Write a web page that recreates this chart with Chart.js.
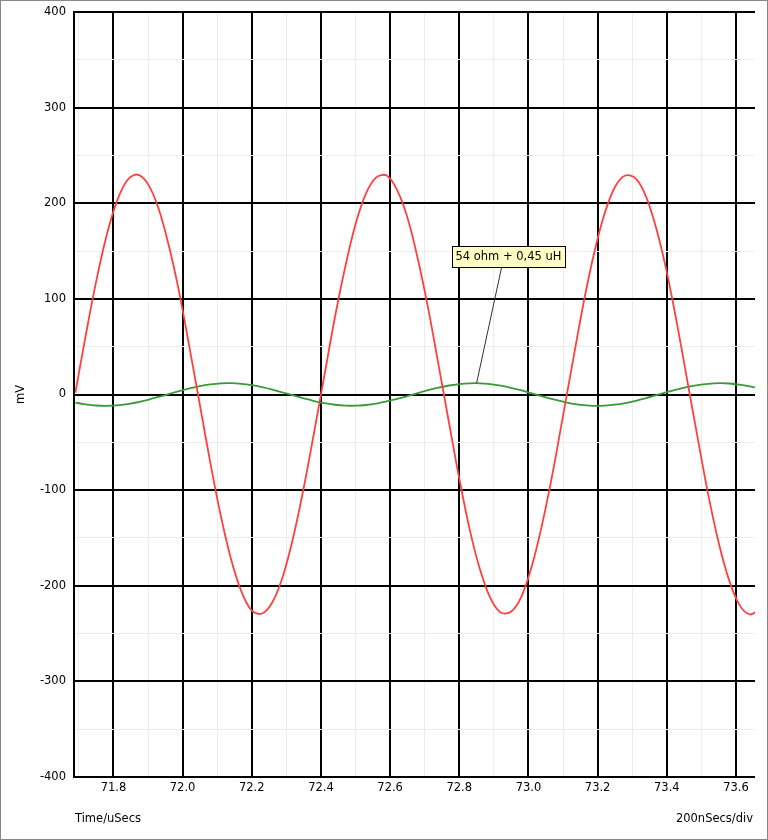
<!DOCTYPE html>
<html>
<head>
<meta charset="utf-8">
<script src="https://cdn.jsdelivr.net/npm/chart.js@4/dist/chart.umd.min.js"></script>
<style>
  html, body { margin: 0; padding: 0; background: #fff; }
  #wrap { width: 768px; height: 840px; }
</style>
</head>
<body>
<div id="wrap"><canvas id="chart" width="768" height="840"></canvas></div>
<script>
// time samples (uSecs)
var times = [71.69, 71.72, 71.75, 71.78, 71.81, 71.84, 71.87, 71.90, 71.93, 71.96,
    71.99, 72.02, 72.05, 72.08, 72.11, 72.14, 72.17, 72.20, 72.23, 72.26,
    72.29, 72.32, 72.35, 72.38, 72.41, 72.44, 72.47, 72.50, 72.53, 72.56,
    72.59, 72.62, 72.65, 72.68, 72.71, 72.74, 72.77, 72.80, 72.83, 72.86,
    72.89, 72.92, 72.95, 72.98, 73.01, 73.04, 73.07, 73.10, 73.13, 73.16,
    73.19, 73.22, 73.25, 73.28, 73.31, 73.34, 73.37, 73.40, 73.43, 73.46,
    73.49, 73.52, 73.55, 73.58, 73.61, 73.64, 73.67];

// red trace (mV)
var redTrace = [2, 62, 118, 166, 202, 224, 230, 220, 195, 156,
    107, 49, -11, -71, -126, -172, -206, -226, -229, -217,
    -190, -149, -98, -40, 20, 80, 133, 178, 210, 227,
    229, 214, 185, 142, 90, 31, -29, -88, -141, -183,
    -213, -228, -227, -211, -179, -135, -82, -22, 38, 97,
    148, 189, 217, 229, 226, 207, 173, 128, 73, 13,
    -47, -105, -155, -194, -220, -230, -224];

// green trace (mV)
var greenTrace = [-8.5, -10.3, -11.5, -11.8, -11.3, -10.0, -8.1, -5.5, -2.6, 0.5,
    3.6, 6.4, 8.8, 10.5, 11.6, 11.8, 11.2, 9.8, 7.7, 5.1,
    2.1, -1.0, -4.0, -6.8, -9.1, -10.7, -11.6, -11.7, -11.0, -9.5,
    -7.3, -4.7, -1.7, 1.5, 4.5, 7.2, 9.4, 10.9, 11.7, 11.7,
    10.8, 9.2, 7.0, 4.2, 1.2, -1.9, -4.9, -7.5, -9.7, -11.1,
    -11.8, -11.6, -10.6, -8.9, -6.6, -3.8, -0.7, 2.4, 5.3, 7.9,
    9.9, 11.2, 11.8, 11.5, 10.4, 8.6, 6.2];

var xMajorTicks = [71.8, 72.0, 72.2, 72.4, 72.6, 72.8, 73.0, 73.2, 73.4, 73.6];
var xMinorTicks = [71.7, 71.9, 72.1, 72.3, 72.5, 72.7, 72.9, 73.1, 73.3, 73.5];
var yMajorTicks = [-400, -300, -200, -100, 0, 100, 200, 300, 400];
var yMinorTicks = [-350, -250, -150, -50, 50, 150, 250, 350];

var noteText = "54 ohm + 0,45 uH";
var noteT = 72.85;
var noteV = 11.8;

function toPoints(ys) {
    return times.map(function (t, i) { return { x: t, y: ys[i] }; });
}
function isMajor(list, v) {
    return list.some(function (m) { return Math.abs(m - v) < 1e-6; });
}
function tickObjs(a, b) {
    return a.concat(b).sort(function (p, q) { return p - q; }).map(function (v) { return { value: v }; });
}

var FONT = "DejaVu Sans";

var extras = {
    id: 'extras',
    afterDraw: function (chart) {
        var c = chart.ctx, a = chart.chartArea;
        var xs = chart.scales.x, ys = chart.scales.y;
        c.save();
        // annotation
        var px = xs.getPixelForValue(noteT), py = ys.getPixelForValue(noteV);
        c.font = "11.5px '" + FONT + "'";
        var w = Math.round(c.measureText(noteText).width + 7);
        var bx = Math.round(px - 25) + 0.5, by = Math.round(py - 137) + 0.5;
        c.strokeStyle = '#333';
        c.lineWidth = 1;
        c.beginPath();
        c.moveTo(px + 25, by + 21);
        c.lineTo(px, py);
        c.stroke();
        c.fillStyle = '#ffffc4';
        c.fillRect(bx, by, w, 21);
        c.strokeStyle = '#000';
        c.strokeRect(bx, by, w, 21);
        c.fillStyle = '#000';
        c.textBaseline = 'middle';
        c.textAlign = 'left';
        c.fillText(noteText, bx + 3, by + 11);
        // axis titles
        c.textBaseline = 'alphabetic';
        c.fillText("Time/uSecs", a.left + 1, 822);
        c.textAlign = 'right';
        c.fillText("200nSecs/div", a.right - 2, 822);
        c.translate(24, (a.top + a.bottom) / 2);
        c.rotate(-Math.PI / 2);
        c.textAlign = 'center';
        c.fillText("mV", 0, 0);
        c.restore();
        // outer frame
        c.save();
        c.strokeStyle = '#8a8a8a';
        c.lineWidth = 1;
        c.strokeRect(0.5, 0.5, chart.width - 1, chart.height - 1);
        c.restore();
    }
};

var ctx = document.querySelector('#chart').getContext('2d');
var chart = new Chart(ctx, {
    type: 'scatter',
    data: {
        datasets: [{
            data: toPoints(redTrace),
            showLine: true,
            borderColor: '#ff4040',
            borderWidth: 1.8,
            pointRadius: 0,
            tension: 0.35
        }, {
            data: toPoints(greenTrace),
            showLine: true,
            borderColor: '#3a9a3a',
            borderWidth: 1.8,
            pointRadius: 0,
            tension: 0.35
        }]
    },
    options: {
        responsive: false,
        animation: false,
        events: [],
        layout: { padding: { top: 12, right: 13, bottom: 0, left: 0 } },
        plugins: { legend: { display: false }, tooltip: { enabled: false } },
        scales: {
            x: {
                type: 'linear',
                min: 71.686,
                max: 73.655,
                afterFit: function (s) { s.height = 63; s.paddingLeft = 0; s.paddingRight = 0; },
                afterBuildTicks: function (s) { s.ticks = tickObjs(xMajorTicks, xMinorTicks); },
                border: { display: false },
                grid: {
                    drawTicks: false,
                    color: function (c) { return c.tick && isMajor(xMajorTicks, c.tick.value) ? '#000' : '#ececec'; },
                    lineWidth: function (c) { return c.tick && isMajor(xMajorTicks, c.tick.value) ? 2 : 1; }
                },
                ticks: {
                    autoSkip: false,
                    maxRotation: 0,
                    padding: 4,
                    color: '#000',
                    font: { family: FONT, size: 11.5 },
                    callback: function (v) { return isMajor(xMajorTicks, v) ? v.toFixed(1) : ''; }
                }
            },
            y: {
                min: -400,
                max: 400,
                afterFit: function (s) { s.width = 74; s.paddingTop = 0; s.paddingBottom = 0; },
                afterBuildTicks: function (s) { s.ticks = tickObjs(yMajorTicks, yMinorTicks); },
                border: { display: true, color: '#000', width: 2 },
                grid: {
                    drawTicks: false,
                    color: function (c) { return c.tick && isMajor(yMajorTicks, c.tick.value) ? '#000' : '#ececec'; },
                    lineWidth: function (c) { return c.tick && isMajor(yMajorTicks, c.tick.value) ? 2 : 1; }
                },
                ticks: {
                    autoSkip: false,
                    padding: 8,
                    color: '#000',
                    font: { family: FONT, size: 11.5 },
                    callback: function (v) { return isMajor(yMajorTicks, v) ? String(v) : ''; }
                }
            }
        }
    },
    plugins: [extras]
});
</script>
</body>
</html>
